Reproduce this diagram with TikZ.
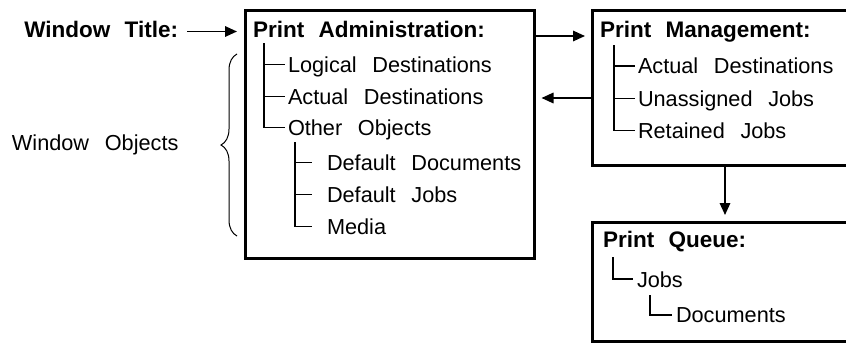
\documentclass[tikz,border=0pt]{standalone}
\usepackage{fontspec}
\setmainfont{Liberation Sans}[WordSpace=2.6]
\newfontfamily\boldttl{Liberation Sans Bold}[WordSpace=2.3]
\usetikzlibrary{arrows.meta,decorations.pathreplacing}
\tikzset{
  winbox/.style={draw, line width=3pt, inner sep=0pt, outer sep=0pt, anchor=north west},
  txt/.style={anchor=base west, inner sep=0pt, outer sep=0pt, font=\fontsize{21.7}{24}\selectfont},
  ttl/.style={txt, font=\fontsize{22.5}{25}\boldttl},
  tree/.style={line width=1.4pt},
  arr/.style={line width=1.7pt, -{Triangle[length=12pt,width=10.5pt]}},
}
\begin{document}
\begin{tikzpicture}[x=1pt,y=-1pt]
\clip (0,0) rectangle (846,343);
% boxes
\node[winbox, minimum width=289.5pt, minimum height=247.5pt] (admin) at (245,10.5) {};
\node[winbox, minimum width=270pt, minimum height=154.5pt] (mgmt) at (592.5,10.5) {};
\node[winbox, minimum width=270pt, minimum height=119.5pt] (queue) at (592,222) {};
% left labels
\node[ttl, anchor=base east] (wt) at (178,37) {Window Title:};
\node[txt] (wo) at (12,150) {Window Objects};
% admin texts
\node[ttl] (at) at (253,37) {Print Administration:};
\node[txt] (ld) at (288,72) {Logical Destinations};
\node[txt] (ad) at (288,104) {Actual Destinations};
\node[txt] (oo) at (288,135) {Other Objects};
\node[txt] (dd) at (327,170) {Default Documents};
\node[txt] (dj) at (327,202) {Default Jobs};
\node[txt] (me) at (327,234) {Media};
% mgmt texts
\node[ttl] (mt) at (600,37) {Print Management:};
\node[txt] (ma) at (638,73.5) {Actual Destinations};
\node[txt] (mu) at (638,106) {Unassigned Jobs};
\node[txt] (mr) at (638,138) {Retained Jobs};
% queue texts
\node[ttl] (qt) at (603,247) {Print Queue:};
\node[txt] (qj) at (637,287) {Jobs};
\node[txt] (qd) at (676,322) {Documents};
% tree coordinates
\coordinate (a0) at (264,43);
\coordinate (b0) at (295,142);
\coordinate (c0) at (614,45);
\coordinate (d0) at (613,257);
\coordinate (e0) at (650,295);
% admin trees
\draw[tree] (a0) |- ([xshift=-3pt,yshift=7.5pt]ld.base west);
\draw[tree] (a0) |- ([xshift=-3pt,yshift=7.5pt]ad.base west);
\draw[tree] (a0) |- ([xshift=-3pt,yshift=7.5pt]oo.base west);
\draw[tree] (b0) |- ([xshift=-15pt,yshift=7.5pt]dd.base west);
\draw[tree] (b0) |- ([xshift=-15pt,yshift=7.5pt]dj.base west);
\draw[tree] (b0) |- ([xshift=-15pt,yshift=7.5pt]me.base west);
% mgmt tree
\draw[tree] (c0) |- ([xshift=-3pt,yshift=7.5pt]ma.base west);
\draw[tree] (c0) |- ([xshift=-3pt,yshift=7.5pt]mu.base west);
\draw[tree] (c0) |- ([xshift=-3pt,yshift=7.5pt]mr.base west);
% queue tree
\draw[tree] (d0) |- ([xshift=-4pt,yshift=8pt]qj.base west);
\draw[tree] (e0) |- ([xshift=-4pt,yshift=7pt]qd.base west);
% arrows
\coordinate (wts) at (187,31.5);
\coordinate (r1) at (0,36);
\coordinate (r2) at (0,98);
\coordinate (dn) at (725,0);
\draw[arr, shorten >=8pt] (wts) -- (wts -| admin.west);
\draw[arr, shorten >=7.5pt] (admin.east |- r1) -- (mgmt.west |- r1);
\draw[arr, shorten >=7pt] (mgmt.west |- r2) -- (admin.east |- r2);
\draw[arr, shorten >=7pt] (mgmt.south -| dn) -- (queue.north -| dn);
% brace
\coordinate (brb) at (237,236);
\coordinate (brt) at (237,54);
\draw[line width=1pt, decorate, decoration={brace, amplitude=16pt}] (brb) -- (brt);
\end{tikzpicture}
\end{document}
